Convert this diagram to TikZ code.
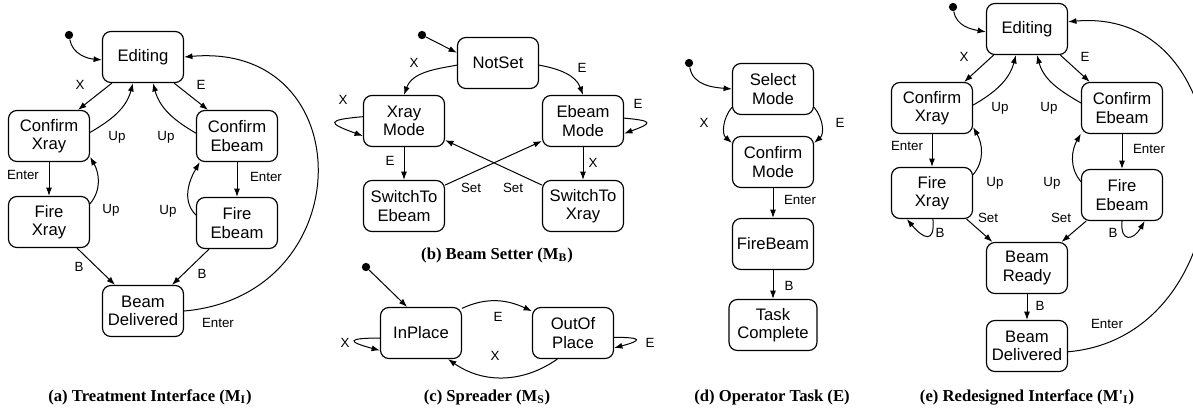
\documentclass[tikz,border=0pt]{standalone}
\usepackage{fontspec}
\setmainfont{Liberation Serif}[Ligatures=TeXOff]
\setsansfont{Liberation Sans}
\usetikzlibrary{arrows.meta}

\begin{document}
\begin{tikzpicture}[x=0.6pt,y=0.6pt,
  state/.style={draw,line width=0.7pt,rounded corners=5pt,minimum width=48.6pt,minimum height=30.6pt,inner sep=1pt,align=center,font=\sffamily\fontsize{10}{11}\selectfont},
  init/.style={circle,fill,inner sep=0pt,minimum size=5pt},
  tr/.style={line width=0.6pt,-{Latex[length=5pt,width=3.6pt]}},
  lbl/.style={font=\sffamily\fontsize{8}{9}\selectfont,inner sep=0pt},
  figcap/.style={font=\bfseries\fontsize{10}{12}\selectfont}]
\useasboundingbox (0,0) rectangle (1193,-413);

% (a)
\node [init] (a0) at (69,-35) {};
\node [state] (aed) at (143,-57) {Editing};
\node [state] (acx) at (49,-136) {Confirm\\Xray};
\node [state] (ace) at (237,-136) {Confirm\\Ebeam};
\node [state, below of=acx, node distance=51.6pt] (afx) {Fire\\Xray};
\node [state, below of=ace, node distance=52.2pt] (afe) {Fire\\Ebeam};
\node [state] (abd) at (143,-311) {Beam\\Delivered};
\draw [tr] (a0) to[out=-80,in=175] (aed.184);
\draw [tr] (aed.220) -- (acx.42) node [lbl] (la1) at (80,-85) {X};
\draw [tr] (acx.5) to[out=30,in=-105] (aed.249) node [lbl] (la2) at (117,-137) {Up};
\draw [tr] (aed.320) -- (ace.138) node [lbl] (la3) at (201,-85) {E};
\draw [tr] (ace.176) to[out=150,in=-75] (aed.291) node [lbl] (la4) at (166,-137) {Up};
\draw [tr] (acx.south) -- (afx.north) node [lbl] (la5) at (23,-175) {Enter};
\draw [tr] (afx.24) to[out=50,in=-60] (acx.333) node [lbl] (la6) at (111,-210) {Up};
\draw [tr] (ace.south) -- (afe.north) node [lbl] (la7) at (266,-177) {Enter};
\draw [tr] (afe.169) to[out=135,in=-120] (ace.215) node [lbl] (la8) at (168,-211) {Up};
\draw [tr] (afx.317) -- (abd.137) node [lbl] (la9) at (79,-267) {B};
\draw [tr] (afe.223) -- (abd.42) node [lbl] (la10) at (202,-274) {B};
\draw [tr] (abd.east) to[out=5,in=5,looseness=1.8] (aed.east) node [lbl] (la11) at (218,-323) {Enter};
\node [figcap] (capa) at (150,-397) {(a) Treatment Interface (M\textsubscript{I})};

% (b)
\node [init] (b0) at (422,-35) {};
\node [state] (bns) at (498,-63) {NotSet};
\node [state] (bxm) at (404,-121) {Xray\\Mode};
\node [state] (bem) at (583,-121) {Ebeam\\Mode};
\node [state, below of=bxm, node distance=51pt] (bse) {SwitchTo\\Ebeam};
\node [state, below of=bem, node distance=51pt] (bsx) {SwitchTo\\Xray};
\draw [tr] (b0) -- (bns.166);
\draw [tr] (bns.183) to[out=190,in=70] (bxm.north) node [lbl] (lb1) at (414,-63) {X};
\draw [tr] (bns.357) to[out=-10,in=110] (bem.north) node [lbl] (lb2) at (582,-68) {E};
\draw [tr] (bxm.174) to[out=185,in=160,looseness=5] (bxm.200) node [lbl] (lb3) at (343,-100) {X};
\draw [tr] (bem.4) to[out=-5,in=20,looseness=5] (bem.343) node [lbl] (lb4) at (638,-104) {E};
\draw [tr] (bxm.south) -- (bse.north) node [lbl] (lb5) at (390,-161) {E};
\draw [tr] (bem.south) -- (bsx.north) node [lbl] (lb6) at (593,-163) {X};
\draw [tr] (bse.27) -- (bem.206) node [lbl] (lb7) at (471,-188) {Set};
\draw [tr] (bsx.153) -- (bxm.335) node [lbl] (lb8) at (513,-188) {Set};
\node [figcap] (capb) at (497,-255) {(b) Beam Setter (M\textsubscript{B})};

% (c)
\node [init] (c0) at (366,-267) {};
\node [state] (cip) at (421,-333) {InPlace};
\node [state, right of=cip, node distance=91.2pt] (cop) {OutOf\\Place};
\draw [tr] (c0) -- (cip.118);
\draw [tr] (cip.31) to[out=25,in=155] (cop.152) node [lbl] (lc1) at (498,-317) {E};
\draw [tr] (cop.239) to[out=-145,in=-35] (cip.316) node [lbl] (lc2) at (495,-356) {X};
\draw [tr] (cip.187) to[out=180,in=165,looseness=7] (cip.203) node [lbl] (lc3) at (345,-343) {X};
\draw [tr] (cop.354) to[out=0,in=15,looseness=7] (cop.340) node [lbl] (lc4) at (650,-343) {E};
\node [figcap] (capc) at (487,-397) {(c) Spreader (M\textsubscript{S})};

% (d)
\node [init] (d0) at (689,-63) {};
\node [state] (dsm) at (773,-89) {Select\\Mode};
\node [state, below of=dsm, node distance=43.8pt] (dcm) {Confirm\\Mode};
\node [state, below of=dcm, node distance=49.2pt] (dfb) {FireBeam};
\node [state, below of=dfb, node distance=48.6pt, minimum width=52.8pt] (dtc) {Task\\Complete};
\draw [tr] (d0) to[out=-80,in=175] (dsm.west);
\draw [tr] (dsm.204) to[out=230,in=140] (dcm.155) node [lbl] (ld1) at (704,-123) {X};
\draw [tr] (dsm.336) to[out=-50,in=40] (dcm.25) node [lbl] (ld2) at (840,-123) {E};
\draw [tr] (dcm.south) -- (dfb.north) node [lbl] (ld3) at (800,-200) {Enter};
\draw [tr] (dfb.south) -- (dtc.north) node [lbl] (ld4) at (789,-286) {B};
\node [figcap] (capd) at (772,-397) {(d) Operator Task (E)};

% (e)
\node [init] (e0) at (953,-7) {};
\node [state] (eed) at (1027,-29) {Editing};
\node [state] (ecx) at (932,-108) {Confirm\\Xray};
\node [state] (ece) at (1122,-108) {Confirm\\Ebeam};
\node [state, below of=ecx, node distance=51pt] (efx) {Fire\\Xray};
\node [state, below of=ece, node distance=52.2pt] (efe) {Fire\\Ebeam};
\node [state] (ebr) at (1027,-268) {Beam\\Ready};
\node [state, below of=ebr, node distance=46.8pt] (ebd) {Beam\\Delivered};
\draw [tr] (e0) to[out=-80,in=170] (eed.184);
\draw [tr] (eed.218) -- (ecx.39) node [lbl] (le1) at (964,-57) {X};
\draw [tr] (ecx.4) to[out=30,in=-105] (eed.247) node [lbl] (le2) at (1000,-108) {Up};
\draw [tr] (eed.322) -- (ece.141) node [lbl] (le3) at (1085,-57) {E};
\draw [tr] (ece.173) to[out=150,in=-75] (eed.291) node [lbl] (le4) at (1049,-108) {Up};
\draw [tr] (ecx.south) -- (efx.north) node [lbl] (le5) at (907,-146) {Enter};
\draw [tr] (efx.24) to[out=50,in=-60] (ecx.335) node [lbl] (le6) at (995,-183) {Up};
\draw [tr] (ece.south) -- (efe.north) node [lbl] (le7) at (1149,-149) {Enter};
\draw [tr] (efe.162) to[out=130,in=-120] (ece.212) node [lbl] (le8) at (1052,-183) {Up};
\draw [tr] (efx.323) -- (ebr.143) node [lbl] (le9) at (988,-218) {Set};
\draw [tr] (efe.216) -- (ebr.37) node [lbl] (le10) at (1061,-218) {Set};
\draw [tr] (efx.272) to[out=-85,in=-50,looseness=2.5] (efx.226) node [lbl] (le11) at (940,-233) {B};
\draw [tr] (efe.270) to[out=-95,in=-120,looseness=2.5] (efe.311) node [lbl] (le12) at (1113,-233) {B};
\draw [tr] (ebr.south) -- (ebd.north) node [lbl] (le13) at (1040,-306) {B};
\draw [tr] (ebd.352) to[out=5,in=5,looseness=1.45] (eed.10) node [lbl] (le14) at (1107,-324) {Enter};
\node [figcap] (cape) at (1027,-397) {(e) Redesigned Interface (M'\textsubscript{I})};
\end{tikzpicture}
\end{document}
